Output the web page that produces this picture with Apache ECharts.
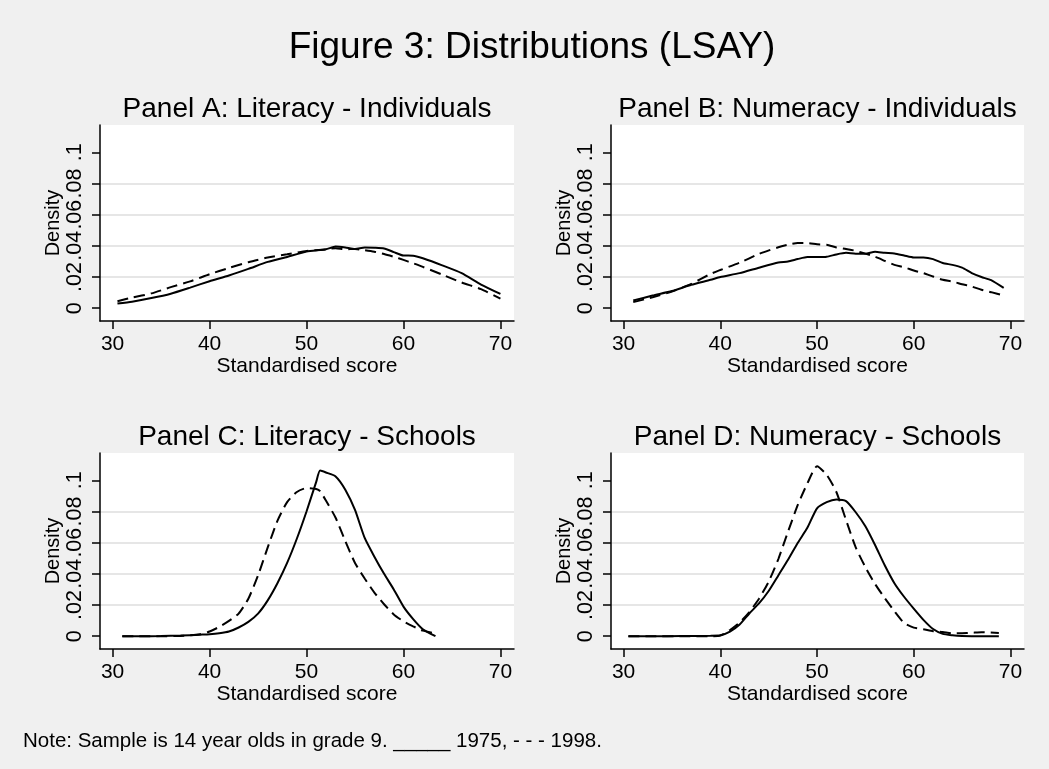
<!DOCTYPE html>
<html>
<head>
<meta charset="utf-8">
<script src="https://cdn.jsdelivr.net/npm/echarts@6/dist/echarts.min.js"></script>
<style>
  html, body { margin: 0; padding: 0; background: #f0f0f0; }
  #chart { width: 1049px; height: 769px; }
</style>
</head>
<body>
<div id="chart"></div>
<script>
// tick values / labels
const xTicks = [30, 40, 50, 60, 70];
const yTicks = [0, 0.02, 0.04, 0.06, 0.08, 0.1];
const yTickLabels = ['0', '.02', '.04', '.06', '.08', '.1'];
const panelTitles = [
  'Panel A: Literacy - Individuals',
  'Panel B: Numeracy - Individuals',
  'Panel C: Literacy - Schools',
  'Panel D: Numeracy - Schools'
];

// Panel A: literacy, individuals
const aX = [30.5, 32, 34, 36, 38, 40, 42, 44, 46, 48, 50, 52, 53, 54, 55, 56, 57, 58, 59, 60, 61, 62, 64, 66, 68, 70];
const a1975 = [0.003, 0.0042, 0.0065, 0.0093, 0.0132, 0.0173, 0.021, 0.0252, 0.0297, 0.0329, 0.0363, 0.0378, 0.0396, 0.039, 0.038, 0.039, 0.0388, 0.0383, 0.036, 0.0338, 0.0337, 0.032, 0.0275, 0.0225, 0.0152, 0.0092];
const a1998 = [0.0045, 0.0068, 0.0095, 0.0135, 0.0172, 0.0218, 0.0258, 0.0295, 0.0325, 0.0346, 0.0367, 0.0377, 0.0385, 0.0378, 0.038, 0.0372, 0.0362, 0.0348, 0.033, 0.031, 0.0288, 0.0265, 0.0215, 0.0165, 0.0122, 0.0062];

// Panel B: numeracy, individuals
const bX = [31, 33, 35, 37, 39, 40, 42, 44, 46, 47, 48, 49, 50, 51, 52, 53, 54, 55, 56, 57, 58, 59, 60, 61, 62, 63, 64, 65, 66, 67, 68, 69.3];
const b1975 = [0.0049, 0.0081, 0.011, 0.015, 0.0182, 0.02, 0.0225, 0.026, 0.0293, 0.03, 0.0315, 0.0328, 0.0328, 0.033, 0.0345, 0.0355, 0.035, 0.035, 0.0362, 0.0355, 0.0351, 0.0338, 0.0325, 0.0325, 0.0315, 0.029, 0.0278, 0.026, 0.0225, 0.02, 0.018, 0.013];
const b1998 = [0.0039, 0.007, 0.0107, 0.0156, 0.022, 0.0245, 0.0292, 0.0348, 0.0391, 0.0407, 0.0418, 0.0418, 0.041, 0.0407, 0.039, 0.038, 0.0368, 0.035, 0.033, 0.0304, 0.0278, 0.0263, 0.0242, 0.0225, 0.0203, 0.0182, 0.0171, 0.0154, 0.0139, 0.0118, 0.0103, 0.0082];

// Panel C: literacy, schools
const cX = [31, 33, 35, 37, 39, 40, 41, 42, 43, 44, 45, 46, 47, 48, 49, 50, 51, 51.4, 52, 53, 54, 55, 56, 57, 58, 59, 60, 61, 62, 63.3];
const c1975 = [0, 0, 0.0001, 0.0004, 0.001, 0.0013, 0.0019, 0.003, 0.0056, 0.0092, 0.0145, 0.023, 0.034, 0.047, 0.0625, 0.08, 0.099, 0.1062, 0.105, 0.1025, 0.094, 0.081, 0.063, 0.051, 0.04, 0.03, 0.019, 0.011, 0.0045, 0];
const c1998 = [0, 0, 0, 0.0002, 0.0013, 0.003, 0.006, 0.0098, 0.0145, 0.024, 0.039, 0.057, 0.074, 0.086, 0.0925, 0.095, 0.0944, 0.093, 0.087, 0.076, 0.061, 0.047, 0.037, 0.028, 0.0205, 0.014, 0.0095, 0.0063, 0.0036, 0.0018];

// Panel D: numeracy, schools
const dX = [30.5, 33, 36, 39, 40, 41, 42, 43, 44, 45, 46, 47, 48, 49, 50, 51, 52, 53, 54, 55, 56, 57, 58, 59, 60, 61, 62, 63, 64, 65, 66, 67, 68.8];
const d1975 = [0, 0, 0.0001, 0.0003, 0.0006, 0.003, 0.0075, 0.0146, 0.021, 0.029, 0.039, 0.049, 0.0598, 0.0695, 0.082, 0.086, 0.0877, 0.0866, 0.0795, 0.0705, 0.0585, 0.0455, 0.034, 0.0253, 0.0177, 0.0105, 0.0046, 0.0015, 0.0006, 0.0001, 0, 0, 0];
const d1998 = [0, 0, 0, 0, 0.0004, 0.004, 0.0088, 0.0155, 0.024, 0.035, 0.0495, 0.067, 0.084, 0.098, 0.109, 0.1035, 0.0925, 0.0745, 0.057, 0.0443, 0.0335, 0.0245, 0.016, 0.0085, 0.0055, 0.0045, 0.0032, 0.0027, 0.0018, 0.0019, 0.0022, 0.0026, 0.0021];

const FONT = '"Liberation Sans", Arial, Helvetica, sans-serif';

var chartDom = document.getElementById('chart');
var myChart = echarts.init(chartDom);
var option;

const grids = [
  { left: 100, top: 125, width: 414, height: 196 },
  { left: 611, top: 125, width: 413, height: 196 },
  { left: 100, top: 453, width: 414, height: 196 },
  { left: 611, top: 453, width: 413, height: 196 }
];
const panels = [
  [aX, a1975, a1998],
  [bX, b1975, b1998],
  [cX, c1975, c1998],
  [dX, d1975, d1998]
];

function zip(xs, ys) {
  return xs.map((x, i) => [x, ys[i]]);
}

const xAxes = [], yAxes = [], series = [], titles = [];

grids.forEach((g, i) => {
  g.show = true;
  g.backgroundColor = '#ffffff';
  g.borderWidth = 0;

  xAxes.push({
    type: 'value',
    gridIndex: i,
    min: 28.7,
    max: 71.4,
    name: 'Standardised score',
    nameLocation: 'middle',
    nameGap: 30,
    nameTextStyle: { fontSize: 21, color: '#000', fontFamily: FONT },
    axisLine: { show: true, onZero: false, lineStyle: { color: '#000', width: 1.5 } },
    axisTick: { show: true, length: 8, customValues: xTicks, lineStyle: { color: '#000', width: 1.5 } },
    axisLabel: { customValues: xTicks, fontSize: 21, color: '#000', margin: 13, fontFamily: FONT },
    splitLine: { show: false }
  });

  yAxes.push({
    type: 'value',
    gridIndex: i,
    min: -0.0082,
    max: 0.1175,
    name: 'Density',
    nameLocation: 'middle',
    nameGap: 32,
    nameTextStyle: { fontSize: 20, color: '#000', fontFamily: FONT },
    axisLine: { show: true, onZero: false, lineStyle: { color: '#000', width: 1.5 } },
    axisTick: { show: true, length: 8, customValues: yTicks, lineStyle: { color: '#000', width: 1.5 } },
    axisLabel: {
      customValues: yTicks,
      rotate: 90,
      fontSize: 21.5,
      color: '#000',
      margin: 14,
      fontFamily: FONT,
      formatter: function (v) {
        let k = 0;
        yTicks.forEach((t, j) => { if (Math.abs(t - v) < Math.abs(yTicks[k] - v)) k = j; });
        return yTickLabels[k];
      }
    },
    splitLine: { show: true, showMinLine: false, showMaxLine: false, lineStyle: { color: '#e6e6e6', width: 2 } }
  });

  const p = panels[i];
  series.push({
    name: '1975',
    type: 'line',
    xAxisIndex: i,
    yAxisIndex: i,
    data: zip(p[0], p[1]),
    showSymbol: false,
    smooth: 0.2,
    lineStyle: { color: '#000', width: 2, type: 'solid' },
    silent: true
  });
  series.push({
    name: '1998',
    type: 'line',
    xAxisIndex: i,
    yAxisIndex: i,
    data: zip(p[0], p[2]),
    showSymbol: false,
    smooth: 0.2,
    lineStyle: { color: '#000', width: 2, type: [11, 6] },
    silent: true
  });

  titles.push({
    text: panelTitles[i],
    left: g.left + g.width / 2,
    top: g.top - 30,
    padding: 0,
    textAlign: 'center',
    textStyle: { fontSize: 28, fontWeight: 'normal', color: '#000', fontFamily: FONT }
  });
});

titles.unshift({
  text: 'Figure 3: Distributions (LSAY)',
  left: 532,
  top: 29,
  padding: 0,
  textAlign: 'center',
  textStyle: { fontSize: 37, fontWeight: 'normal', color: '#000', fontFamily: FONT }
});
titles.push({
  text: 'Note: Sample is 14 year olds in grade 9. _____ 1975, - - - 1998.',
  left: 23,
  top: 731,
  padding: 0,
  textStyle: { fontSize: 20.5, fontWeight: 'normal', color: '#000', fontFamily: FONT }
});

option = {
  backgroundColor: '#f0f0f0',
  animation: false,
  title: titles,
  grid: grids,
  xAxis: xAxes,
  yAxis: yAxes,
  series: series
};

option && myChart.setOption(option);
</script>
</body>
</html>
